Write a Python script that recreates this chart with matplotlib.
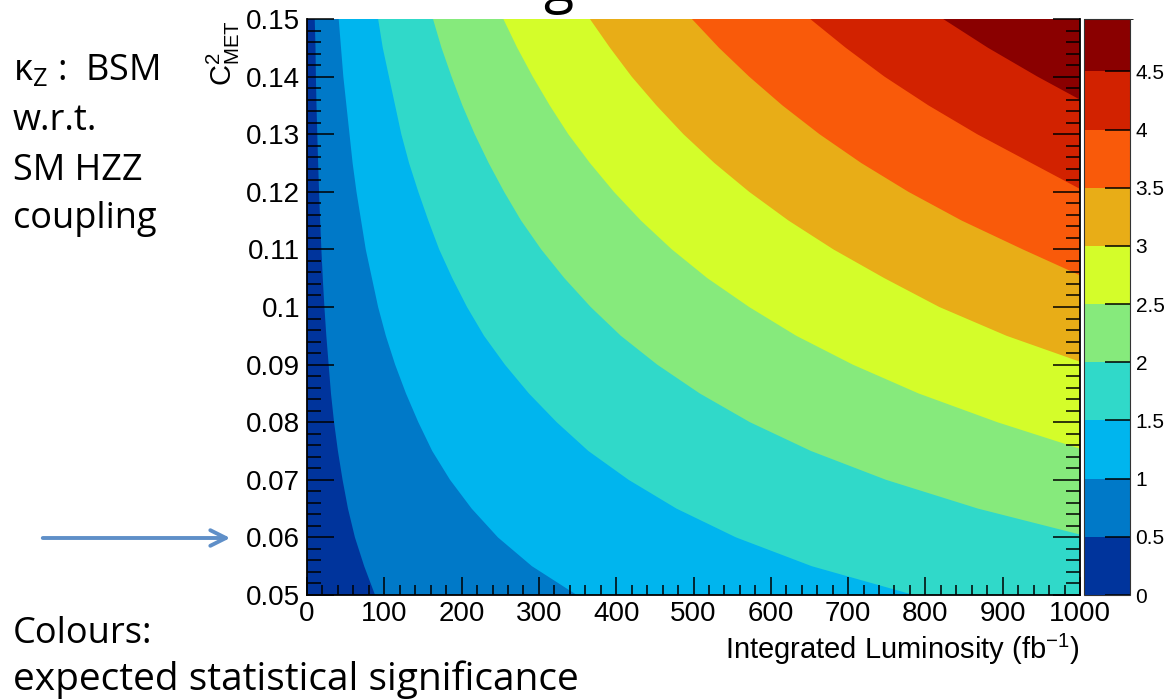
import matplotlib
matplotlib.use('Agg')
import matplotlib as mpl
import matplotlib.pyplot as plt
from matplotlib.colors import ListedColormap, BoundaryNorm
from matplotlib.ticker import MultipleLocator

plt.rcParams['font.family'] = ['Liberation Sans', 'DejaVu Sans']

# C^2_MET rows (top -> bottom) at which the contour edges were read
c_rows = [0.150, 0.145, 0.140, 0.135, 0.130, 0.125, 0.120, 0.115, 0.110, 0.105,
          0.100, 0.095, 0.090, 0.085, 0.080, 0.075, 0.070, 0.065, 0.060, 0.055,
          0.050]

# significance levels and band colours
levels = [0, 0.5, 1, 1.5, 2, 2.5, 3, 3.5, 4, 4.5, 4.95]
level_labels = ['0', '0.5', '1', '1.5', '2', '2.5', '3', '3.5', '4', '4.5']
band_colors = ['#00349c', '#0079c8', '#00b5ee', '#30d9c9', '#86ea7c',
               '#d4fd2a', '#e8ad17', '#f95a0a', '#d22200', '#8a0000']

# luminosity (fb^-1) of each level's edge on the C rows;
# shorter lists leave the frame through the right edge at c_exit
lumi_z05 = [10, 11, 11.5, 12.3, 13.3, 14.4, 15.6, 17, 18.6, 20.4, 22.5, 25, 28,
            31, 35, 40, 46, 53, 62, 74, 88]
lumi_z10 = [41, 44, 47, 51, 55, 59, 64, 70, 76, 84, 92, 102, 114, 128, 144,
            162, 185, 213, 247, 291, 349]
lumi_z15 = [92, 98, 106, 114, 122, 132, 144, 157, 171, 188, 207, 229, 256, 287,
            323, 364, 416, 478, 555, 653, 785]
lumi_z20 = [163, 174, 187, 201, 217, 235, 255, 277, 303, 333, 367, 406, 453,
            508, 573, 652, 749, 868]
lumi_z25 = [254, 272, 292, 314, 338, 366, 397, 432, 472, 518, 572, 633, 706,
            791, 893]
lumi_z30 = [366, 392, 420, 452, 487, 527, 572, 623, 681, 747, 818, 905]
lumi_z35 = [498, 533, 572, 615, 663, 717, 778, 847, 926]
lumi_z40 = [651, 697, 747, 804, 867, 937]
lumi_z45 = [823, 881, 945]
edges = [lumi_z05, lumi_z10, lumi_z15, lumi_z20, lumi_z25,
         lumi_z30, lumi_z35, lumi_z40, lumi_z45]
c_exit = [0.05, 0.05, 0.05, 0.0605, 0.0754, 0.0905, 0.1055, 0.1205, 0.136]

lumi_max = 1000

fig = plt.figure(figsize=(11.67, 6.99), dpi=100)
ax = fig.add_axes([0.26307, 0.14878, 0.66238, 0.82403])
ax.set_facecolor(band_colors[0])

for k, lumi in enumerate(edges):
    xs = list(lumi) + [lumi_max, lumi_max]
    ys = c_rows[:len(lumi)] + [c_exit[k], c_rows[0]]
    ax.fill(xs, ys, color=band_colors[k + 1], lw=0)

ax.set_xlim(0, lumi_max)
ax.set_ylim(0.05, 0.15)
ax.xaxis.set_major_locator(MultipleLocator(100))
ax.xaxis.set_minor_locator(MultipleLocator(20))
ax.yaxis.set_minor_locator(MultipleLocator(0.002))
ax.set_yticks([0.05, 0.06, 0.07, 0.08, 0.09, 0.10, 0.11, 0.12, 0.13, 0.14, 0.15])
ax.set_yticklabels(['0.05', '0.06', '0.07', '0.08', '0.09', '0.1',
                    '0.11', '0.12', '0.13', '0.14', '0.15'])

ax.tick_params(which='both', direction='in', top=False, right=True, width=1.1,
               labelsize=20)
ax.tick_params(axis='x', which='major', length=13, pad=4)
ax.tick_params(axis='x', which='minor', length=7)
ax.tick_params(axis='y', which='major', length=19.5, pad=5)
ax.tick_params(axis='y', which='minor', length=10)
for side in ['left', 'right', 'bottom']:
    ax.spines[side].set_linewidth(1.3)
ax.spines['top'].set_visible(False)

ax.set_xlabel('Integrated Luminosity (fb$\\mathregular{^{-1}}$)', fontsize=21,
              loc='right')
ax.xaxis.set_label_coords(1.0, -0.064)
fig.text(0.1911, 0.9714, '$\\mathregular{C^{2}_{MET}}$', rotation=90,
         ha='center', va='top', fontsize=21)

# colour scale
cax = fig.add_axes([0.92888, 0.14878, 0.03942, 0.82403])
cmap = ListedColormap(band_colors)
norm = BoundaryNorm(levels, cmap.N)
cb = mpl.colorbar.ColorbarBase(cax, cmap=cmap, norm=norm, boundaries=levels,
                               ticks=levels[:-1], spacing='proportional')
cb.set_ticklabels(level_labels)
cax.tick_params(direction='in', length=18, width=1.1, labelsize=15, pad=4)
cb.outline.set_linewidth(0.8)
cb.outline.set_edgecolor('#333333')

# slide annotations
note = dict(family=['Open Sans', 'DejaVu Sans'], fontsize=26, va='baseline')
fig.text(0.0111, 0.8856, 'κ$_\\mathregular{Z}$ :  BSM', **note)
fig.text(0.0111, 0.8140, 'w.r.t.', **note)
fig.text(0.0111, 0.7425, 'SM HZZ', **note)
fig.text(0.0111, 0.6738, 'coupling', **note)
fig.text(0.0111, 0.0801, 'Colours:', **note)
fig.text(0.0111, 0.0130, 'expected statistical significance',
         family=['Open Sans', 'DejaVu Sans'], fontsize=28, va='baseline')
# lower edge of the slide title, cut off at the top
fig.text(0.478, 0.979, 'g', family=['Open Sans', 'DejaVu Sans'], fontsize=40,
         va='bottom', ha='center')

ax.annotate('', xy=(233, 161), xytext=(40, 161), xycoords='figure pixels',
            textcoords='figure pixels', annotation_clip=False,
            arrowprops=dict(arrowstyle='->', color='#5f8fc8', lw=2.8,
                            mutation_scale=28))

fig.savefig('out.png', dpi=100)
